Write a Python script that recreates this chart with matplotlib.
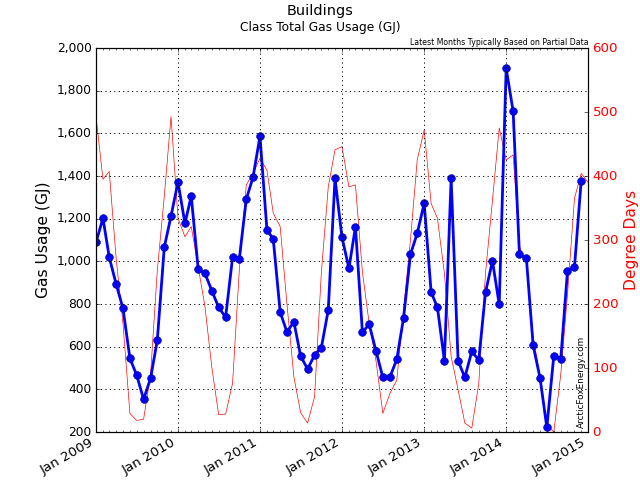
import pandas as pd
import matplotlib
matplotlib.use('Agg')
import matplotlib.pyplot as plt
import matplotlib.dates as mdates
from matplotlib.ticker import FuncFormatter

plt.style.use('classic')

# monthly gas usage (GJ), Jan 2009 - Dec 2014
gas_2009 = [1089, 1202, 1019, 892, 780, 545, 467, 353, 452, 631, 1066, 1212]
gas_2010 = [1372, 1178, 1306, 963, 944, 861, 784, 738, 1019, 1011, 1291, 1394]
gas_2011 = [1586, 1147, 1105, 761, 669, 716, 556, 495, 561, 594, 772, 1389]
gas_2012 = [1113, 967, 1162, 667, 705, 578, 456, 456, 541, 733, 1033, 1131]
gas_2013 = [1272, 855, 784, 533, 1389, 533, 456, 578, 537, 855, 1002, 798]
gas_2014 = [1905, 1703, 1034, 1014, 606, 452, 222, 556, 542, 955, 972, 1378]

# heating degree days, Jan 2009 - Jan 2015
dd_2009 = [493, 395, 407, 270, 170, 29, 18, 20, 90, 253, 368, 493]
dd_2010 = [334, 305, 321, 258, 196, 100, 27, 28, 76, 253, 386, 404]
dd_2011 = [428, 409, 342, 321, 200, 86, 30, 14, 55, 248, 383, 441]
dd_2012 = [446, 383, 386, 250, 170, 110, 29, 60, 81, 190, 300, 425]
dd_2013 = [472, 357, 334, 248, 118, 66, 14, 6, 76, 248, 362, 475]
dd_2014 = [425, 433, 290, 264, 149, 86, 11, 0, 90, 215, 365, 404]
dd_2015 = [390]

gas = gas_2009 + gas_2010 + gas_2011 + gas_2012 + gas_2013 + gas_2014
dd = dd_2009 + dd_2010 + dd_2011 + dd_2012 + dd_2013 + dd_2014 + dd_2015

gas_dates = pd.date_range('2009-01-01', periods=len(gas), freq='MS')
dd_dates = pd.date_range('2009-01-01', periods=len(dd), freq='MS')

fig = plt.figure(figsize=(8, 6), dpi=80)
fig.subplots_adjust(left=0.15, right=0.919, bottom=0.1, top=0.9)
ax = fig.add_subplot(111)
ax2 = ax.twinx()

ax2.plot(dd_dates, dd, color='red', lw=0.6)
ax2.set_ylim(0, 600)
ax2.set_ylabel('Degree Days', color='red', fontsize=14)
for t in ax2.get_yticklabels():
    t.set_color('red')
ax2.tick_params(axis='y', labelsize=12)

ax.plot(gas_dates, gas, color='blue', lw=2.5, marker='o', ms=7,
        mec='#000080', mew=0.5)
ax.set_zorder(ax2.get_zorder() + 1)
ax.patch.set_visible(False)

ax.set_ylim(200, 2000)
ax.set_yticks(range(200, 2001, 200))
ax.yaxis.set_major_formatter(FuncFormatter(lambda v, p: '{:,.0f}'.format(v)))
ax.set_ylabel('Gas Usage (GJ)', fontsize=14)
ax.tick_params(axis='y', labelsize=11)

ax.set_xlim(pd.Timestamp('2009-01-01'), pd.Timestamp('2015-01-01'))
ax.xaxis.set_major_locator(mdates.YearLocator())
ax.xaxis.set_minor_locator(mdates.MonthLocator())
ax.xaxis.set_major_formatter(mdates.DateFormatter('%b %Y'))
ax.tick_params(axis='x', labelsize=12)
for t in ax.get_xticklabels():
    t.set_rotation(30)
    t.set_ha('right')

ax.grid(True, which='major', linestyle=':', color='black', lw=0.9)

fig.text(0.5, 0.978, 'Buildings', ha='center', va='center', fontsize=13)
fig.text(0.5, 0.943, 'Class Total Gas Usage (GJ)', ha='center', va='center', fontsize=11)
fig.text(0.919, 0.903, 'Latest Months Typically Based on Partial Data',
         ha='right', va='bottom', fontsize=7)
ax.text(0.995, 0.01, 'ArcticFoxEnergy.com', transform=ax.transAxes,
        rotation=90, ha='right', va='bottom', fontsize=8)

fig.savefig('out.png', dpi=80)
